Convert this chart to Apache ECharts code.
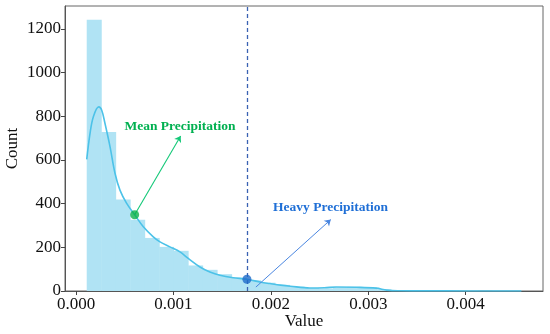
<!DOCTYPE html>
<html><head><meta charset="utf-8">
<script src="https://cdn.jsdelivr.net/npm/echarts@6/dist/echarts.min.js"></script>
<style>html,body{margin:0;padding:0;background:#fff}#c{width:550px;height:334px}</style>
</head><body><div id="c"></div>
<script>
var binEdges = [0.000110,0.000259,0.000407,0.000556,0.000705,0.000854,0.001002,0.001151,0.001300,0.001448,0.001597,0.001746,0.001894,0.002043,0.002192,0.002341,0.002489,0.002638,0.002787,0.002935,0.003084,0.003233,0.003381,0.003530,0.003679,0.003828,0.003976,0.004125,0.004274,0.004422,0.004571];
var binCounts = [1242,728,419,326,243,202,184,117,97,77,61,49,38,28,20,14,12,17,19,16,8,2,1,0,0,1,1,0,1,1];
var kdeX = [0.000110,0.000144,0.000178,0.000233,0.000263,0.000297,0.000349,0.000400,0.000451,0.000520,0.000602,0.000691,0.000793,0.000862,0.000964,0.001067,0.001152,0.001272,0.001374,0.001477,0.001613,0.001754,0.001900,0.001990,0.002100,0.002200,0.002400,0.002550,0.002670,0.002880,0.003080,0.003190,0.003300,0.003600,0.004000,0.004571];
var kdeY = [603,722,798,843,829,768,661,539,462,401,349,294,248,225,202,179,149,110,87,72,61,54,40,34,27,22,14,15,18,17,13,4,1,0.5,0.3,0.3];
var xTicks = [0, 0.001, 0.002, 0.003, 0.004];
var yTicks = [0, 200, 400, 600, 800, 1000, 1200];
var yMax = 1305;
var meanPoint = [0.000602, 349];
var heavyPoint = [0.001754, 54];
var meanLabel = 'Mean Precipitation';
var heavyLabel = 'Heavy Precipitation';
var meanArrowEnd = [0.001074, 710];
var meanTextPos = [0.001067, 752];
var heavyArrowStart = [0.001846, 18];
var heavyArrowEnd = [0.002615, 327];
var heavyTextPos = [0.002612, 381];

var histData = binCounts.map(function(c, i){ return [binEdges[i], binEdges[i+1], c]; });
var kdeData = kdeX.map(function(x, i){ return [x, kdeY[i]]; });
var FONT = '"Liberation Serif","Times New Roman",serif';

var chart = echarts.init(document.getElementById('c'), null, {renderer:'canvas'});
chart.setOption({
  animation: false,
  grid: {left: 65, right: 7, top: 6, bottom: 43, show: true, borderColor: '#666', borderWidth: 1,
    backgroundColor: 'transparent', containLabel: false, outerBoundsMode: 'none'},
  xAxis: {
    type: 'value', min: -0.000113, max: 0.004793,
    name: 'Value', nameLocation: 'middle', nameGap: 22, nameMoveOverlap: false,
    nameTextStyle: {fontFamily: FONT, fontSize: 17, color: '#111'},
    axisLine: {show: true, onZero: false, lineStyle: {color: '#555', width: 1}},
    axisTick: {show: true, length: 4, customValues: xTicks, lineStyle: {color: '#444'}},
    axisLabel: {customValues: xTicks, fontFamily: FONT, fontSize: 17, color: '#111', margin: 5,
      formatter: function(v){ return v.toFixed(3); }},
    splitLine: {show: false}
  },
  yAxis: {
    type: 'value', min: 0, max: yMax,
    name: 'Count', nameLocation: 'middle', nameGap: 44, nameMoveOverlap: false,
    nameTextStyle: {fontFamily: FONT, fontSize: 17, color: '#111'},
    axisLine: {show: true, onZero: false, lineStyle: {color: '#555', width: 1}},
    axisTick: {show: true, length: 4, customValues: yTicks, lineStyle: {color: '#444'}},
    axisLabel: {customValues: yTicks, fontFamily: FONT, fontSize: 17, color: '#111', margin: 4,
      formatter: function(v){ return String(v); }},
    splitLine: {show: false}
  },
  series: [
    {
      type: 'custom', data: histData, encode: {x: [0, 1], y: 2}, z: 1,
      renderItem: function(params, api){
        var s = api.coord([api.value(0), api.value(2)]);
        var e = api.coord([api.value(1), 0]);
        return {type: 'rect', shape: {x: s[0], y: s[1], width: e[0] - s[0] + 0.5, height: e[1] - s[1]},
          style: {fill: '#b0e3f4'}};
      }
    },
    {
      type: 'line', data: kdeData, smooth: 0.35, showSymbol: false, z: 3,
      lineStyle: {color: '#4cc2e8', width: 1.6}
    },
    {
      type: 'line', data: [], z: 4,
      markLine: {
        silent: true, label: {show: false},
        data: [
          [{coord: [heavyPoint[0], 0], symbol: 'none', lineStyle: {color: '#3a62b3', type: [4, 3], width: 1.3}},
           {coord: [heavyPoint[0], yMax], symbol: 'none'}],
          [{coord: meanPoint, symbol: 'none', lineStyle: {color: '#14c878', width: 1.1, type: 'solid'}},
           {coord: meanArrowEnd, symbol: 'arrow', symbolSize: 6}],
          [{coord: heavyArrowStart, symbol: 'none', lineStyle: {color: '#4a86e0', width: 1, type: 'solid'}},
           {coord: heavyArrowEnd, symbol: 'arrow', symbolSize: 6}]
        ]
      }
    },
    {
      type: 'scatter', z: 5, symbolSize: 9,
      data: [
        {value: meanPoint, itemStyle: {color: '#0db14b'}},
        {value: heavyPoint, itemStyle: {color: '#1f6cc9'}}
      ]
    },
    {
      type: 'scatter', z: 6, symbolSize: 1, itemStyle: {opacity: 0},
      data: [
        {value: meanTextPos, label: {show: true, formatter: meanLabel, position: 'inside', color: '#00b050',
          fontFamily: FONT, fontWeight: 'bold', fontSize: 13.5, opacity: 1}},
        {value: heavyTextPos, label: {show: true, formatter: heavyLabel, position: 'inside', color: '#1f6fd6',
          fontFamily: FONT, fontWeight: 'bold', fontSize: 13.5, opacity: 1}}
      ]
    }
  ]
});
</script></body></html>
